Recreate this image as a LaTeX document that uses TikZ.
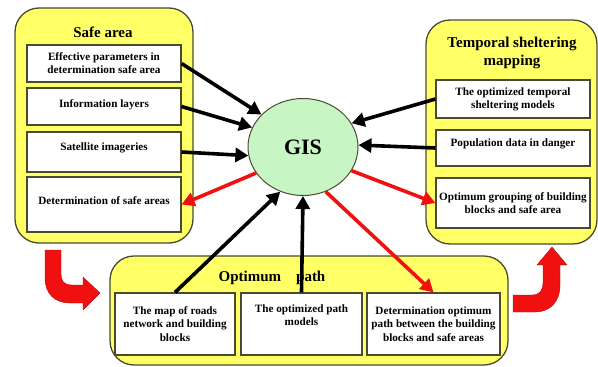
\documentclass[tikz,border=0pt]{standalone}
\usepackage{fontspec}
\setmainfont{Liberation Serif}
\usetikzlibrary{shapes.geometric,arrows.meta}
\definecolor{panelyellow}{HTML}{FFFF66}
\definecolor{paneledge}{HTML}{4A4A30}
\definecolor{gisgreen}{HTML}{C8F5C4}
\definecolor{arrred}{HTML}{F01010}
\newcommand{\up}[2]{\raisebox{#1}[\height][\depth]{#2}}
\tikzset{
  panel/.style={draw=paneledge, fill=panelyellow, line width=1.3pt, rounded corners=24pt},
  infobox/.style={draw=paneledge, fill=white, line width=1.1pt, align=center, inner sep=1pt,
    font=\bfseries\fontsize{11.2}{13.2}\selectfont},
  ptitle/.style={font=\bfseries\fontsize{15}{17.5}\selectfont, align=center},
  blk/.style={line width=3.6pt, -{Triangle[length=13pt,width=14pt]}},
  redarr/.style={draw=arrred, line width=3.6pt, -{Triangle[length=13pt,width=14pt]}, arrred},
  bigarrow/.style={fill=arrred, draw=arrred!80!black, line width=0.4pt}
}
\begin{document}
\begin{tikzpicture}[x=1pt,y=-1pt]
\useasboundingbox (0,0) rectangle (598,367);
% panels
\draw[panel] (15,8) rectangle (193,243);
\draw[panel] (426,20) rectangle (597,244);
\draw[panel] (110,256) rectangle (508,365);
% titles
\node[ptitle] (tsafe) at (103,32) {Safe area};
\node[ptitle] (ttsm) at (512,53) {Temporal sheltering\\mapping};
\node[ptitle] (topt) at (272,278) {Optimum\hspace{15pt}path};
% safe area boxes
\node[infobox, minimum width=154pt, minimum height=37pt] (sa1) at (104,63.5) {Effective parameters in\\determination safe area};
\node[infobox, minimum width=154pt, minimum height=37pt] (sa2) at (104,106.5) {\up{2pt}{Information layers}};
\node[infobox, minimum width=154pt, minimum height=40pt] (sa3) at (104,152) {\up{4pt}{Satellite imageries}};
\node[infobox, minimum width=154pt, minimum height=55pt] (sa4) at (104,204.5) {\up{4pt}{Determination of safe areas}};
% temporal sheltering boxes
\node[infobox, minimum width=154pt, minimum height=38pt] (ts1) at (513,99) {The optimized temporal\\sheltering models};
\node[infobox, minimum width=154pt, minimum height=36pt] (ts2) at (513,148) {\up{4pt}{Population data in danger}};
\node[infobox, minimum width=154pt, minimum height=50pt] (ts3) at (513,203) {Optimum grouping of building\\blocks and safe area};
% optimum path boxes
\node[infobox, minimum width=120pt, minimum height=62pt] (op1) at (175,324) {The map of roads\\network and building\\blocks};
\node[infobox, minimum width=121pt, minimum height=62pt] (op2) at (301.5,324) {\up{9pt}{\shortstack{The optimized path\\models}}};
\node[infobox, minimum width=133pt, minimum height=62pt] (op3) at (433.5,324) {Determination optimum\\path between the building\\blocks and safe areas};
% GIS
\node[ellipse, draw=paneledge, fill=gisgreen, line width=1pt, minimum width=110pt, minimum height=97pt, inner sep=0pt,
  font=\bfseries\fontsize{22}{24}\selectfont] (gis) at (303,147) {GIS};
% arrows
\draw[blk] (sa1.east) -- (gis.142);
\draw[blk] (sa2.east) -- (gis.159);
\draw[blk] (sa3.east) -- (gis.189);
\draw[redarr] (gis.209) -- (sa4.east);
\draw[blk] (ts1.west) -- (gis.26);
\draw[blk] (ts2.west) -- (gis.2);
\draw[redarr] (gis.334) -- (ts3.west);
\draw[blk] (op1.north) -- (gis.243);
\draw[blk] (op2.north) -- (gis.270);
\draw[redarr] (gis.297) -- (op3.north);
% big curved arrows
\draw[bigarrow] (45,250) -- (45,278) .. controls (45,294) and (55,303) .. (70,303)
  -- (83,303) -- (83,310) -- (100,293) -- (83,277) -- (83,285) -- (72,285)
  .. controls (64,285) and (61,281) .. (61,274) -- (61,250) -- cycle;
\draw[bigarrow] (513,295) -- (532,295) .. controls (540,295) and (543,290) .. (543,283)
  -- (543,265) -- (537,265) -- (552,247) -- (567,265) -- (560,265) -- (560,285)
  .. controls (560,302) and (550,312) .. (535,312) -- (513,312) -- cycle;
\end{tikzpicture}
\end{document}
